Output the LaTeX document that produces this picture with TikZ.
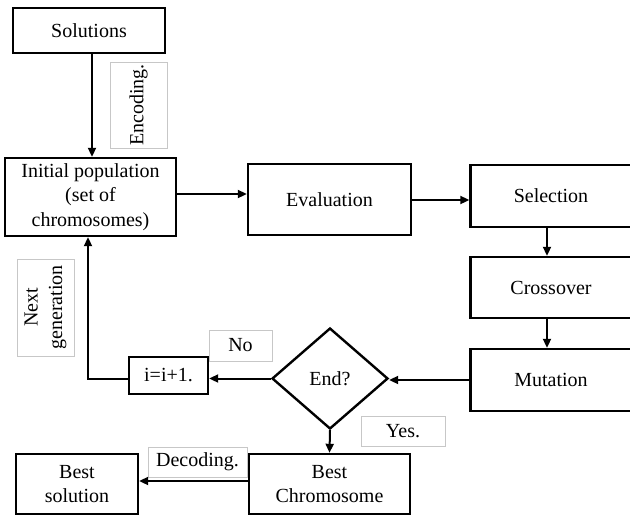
\documentclass[tikz,border=0pt]{standalone}
\usepackage{fontspec}
\setmainfont{Liberation Serif}
\usetikzlibrary{shapes.geometric,arrows.meta}
\begin{document}
\begin{tikzpicture}[x=1pt,y=-1pt,
  every node/.style={font=\fontsize{20}{24.5}\selectfont, inner sep=0pt, align=center},
  box/.style={draw, line width=2.4pt, rectangle},
  lab/.style={draw=black!22, line width=0.7pt, rectangle},
  arr/.style={line width=2pt, -{Triangle[length=9pt,width=8pt]}}]
\useasboundingbox (0,0) rectangle (630,517);
\clip (0,0) rectangle (630,517);
% boxes
\node[box, minimum width=152pt, minimum height=45pt] (sol) at (89,30.5) {Solutions};
\node[box, minimum width=171pt, minimum height=78pt] (init) at (90.5,197) {Initial population\\(set of\\chromosomes)};
\node[box, minimum width=163pt, minimum height=71pt] (eval) at (329.5,199.5) {Evaluation};
\node[box, minimum width=161pt, minimum height=62pt] (sel) at (551,196) {Selection};
\node[box, minimum width=161pt, minimum height=61pt] (cross) at (551,287.5) {Crossover};
\node[box, minimum width=161pt, minimum height=62pt] (mut) at (551,380) {Mutation};
\node[diamond, draw, line width=2.4pt, minimum width=116pt, minimum height=101pt] (end) at (330,378.5) {End?};
\node[box, minimum width=79pt, minimum height=37pt] (inc) at (168.5,375.5) {i=i+1.};
\node[box, minimum width=161pt, minimum height=60pt] (bc) at (329.5,484) {Best\\[-1pt]Chromosome};
\node[box, minimum width=122pt, minimum height=60pt] (bs) at (77,484) {Best\\[-1pt]solution};
% labels
\node[lab, rotate=90, minimum width=86pt, minimum height=57pt] (enc) at (138.5,105) {Encoding.};
\node[lab, rotate=90, minimum width=97pt, minimum height=57pt] (ng) at (45.5,307.5) {Next\\generation};
\node[lab, minimum width=63pt, minimum height=31pt] (no) at (240.5,345.5) {No};
\node[lab, minimum width=84pt, minimum height=30pt] (yes) at (403,431) {Yes.};
\node[lab, minimum width=99pt, minimum height=30pt] (dec) at (197.5,462) {Decoding.};
% connectors
\draw[arr] ([xshift=3pt]sol.south) -- ([xshift=3pt]sol.south |- init.north);
\draw[arr] ([yshift=3pt]init.east) -- ([yshift=3pt]init.east -| eval.west);
\draw[arr] ([yshift=-0.5pt]eval.east) -- ([yshift=-0.5pt]eval.east -| sel.west);
\draw[arr] ([xshift=-4pt]sel.south) -- ([xshift=-4pt]cross.north);
\draw[arr] ([xshift=-4pt]cross.south) -- ([xshift=-4pt]mut.north);
\draw[arr] (mut.west) -- (mut.west -| end.east);
\draw[arr] (end.west) -- (end.west -| inc.east);
\draw[arr] (end.west -| inc.west) -| ([xshift=-2.5pt]init.south);
\draw[arr] (end.south) -- (bc.north);
\draw[arr] ([yshift=3pt]bc.west) -- ([yshift=3pt]bc.west -| bs.east);
\end{tikzpicture}
\end{document}
